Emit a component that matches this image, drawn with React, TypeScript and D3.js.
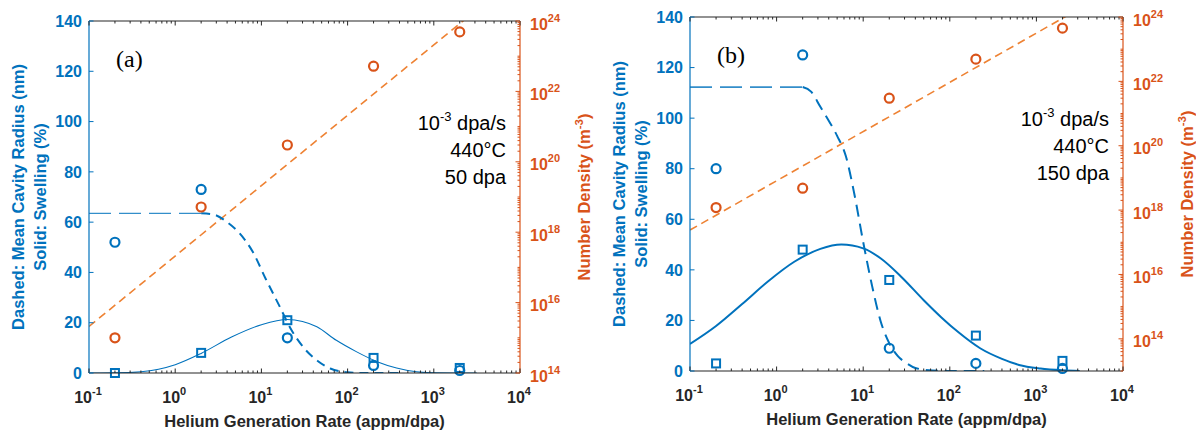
import React, { useEffect, useRef } from "react";
import * as d3 from "d3";

const BLUE = "#0072BD";
const ORANGE = "#D95319";
const FIT_ORANGE = "#EE8233";
const DARK = "#262626";
const SANS = "'Liberation Sans', Arial, sans-serif";
const SERIF = "'Liberation Serif', 'Times New Roman', serif";

// helium generation rates of the measured samples (appm/dpa)
const heRates = [0.2, 2, 20, 200, 2000];

// panel (a) 50 dpa
const radiusA = [52, 73, 14, 3, 1];
const swellA = [0, 8, 21, 6, 2];
const densityA = [1e15, 5.2e18, 3e20, 5.2e22, 4.9e23];

const radiusFlatXA = [0.1, 2];
const radiusFlatYA = [63.5, 63.5];
const radiusDropXA = [2, 2.8, 4, 5.6, 8, 11.2, 16, 22.4, 32, 45, 63, 100, 160, 400];
const radiusDropYA = [63.5, 63, 60, 55.5, 48, 37.5, 27, 17, 9.5, 4.8, 1.8, 0.3, 0, 0];
const swellFitXA = [0.1, 0.2, 0.4, 1, 2, 4.5, 10, 20, 30, 44, 74, 126, 220, 370, 630, 1070, 3160];
const swellFitYA = [0, 0.05, 0.5, 3.3, 7.8, 14.3, 19.2, 21.3, 20.5, 18.4, 13, 8.5, 4.5, 2, 0.5, 0.05, 0];
const densFitXA = [0.1, 1e4];
const densFitYA = [2.1e15, 2.1e25];

// panel (b) 150 dpa
const radiusB = [80, 125, 9, 3, 1];
const swellB = [3, 48, 36, 14, 4];
const densityB = [1.2e18, 4.8e18, 3e21, 4.9e22, 4.5e23];

const radiusFlatXB = [0.1, 2];
const radiusFlatYB = [112.3, 112.3];
const radiusDropXB = [2, 2.5, 3.2, 4, 5, 6.3, 7.9, 10, 12.6, 15.8, 20, 25, 32, 40, 63, 100, 250];
const radiusDropYB = [112.3, 110.5, 104.5, 99, 93, 85, 70, 51, 34, 20, 11, 6, 3, 1.2, 0.2, 0, 0];
const swellFitXB = [0.1, 0.2, 0.4, 0.8, 1.6, 3.2, 5.6, 10, 16, 28, 50, 80, 126, 224, 400, 630, 1120, 2000, 3160];
const swellFitYB = [10.7, 17.8, 26.5, 35.5, 43.2, 48.3, 50, 48.5, 44.5, 37, 28, 21.2, 15.3, 9, 4.8, 2.4, 1.0, 0.3, 0];
const densFitXB = [0.1, 1e4];
const densFitYB = [2.4e17, 1.07e25];

const xDomain = [0.1, 1e4];
const leftDomain = [0, 140];

type Panel = {
  key: string;
  tag: string;
  dose: string;
  left: number; right: number; top: number; bottom: number;
  densMin: number;
  radius: number[]; swell: number[]; density: number[];
  flatX: number[]; flatY: number[];
  dropX: number[]; dropY: number[];
  swellX: number[]; swellY: number[];
  fitX: number[]; fitY: number[];
  swellW: number;
  flatW: number;
  dropDash: string;
};

const panels: Panel[] = [
  {
    key: "a", tag: "(a)", dose: "50 dpa",
    left: 89, right: 520, top: 21, bottom: 373, densMin: 1e14,
    radius: radiusA, swell: swellA, density: densityA,
    flatX: radiusFlatXA, flatY: radiusFlatYA,
    dropX: radiusDropXA, dropY: radiusDropYA,
    swellX: swellFitXA, swellY: swellFitYA,
    fitX: densFitXA, fitY: densFitYA,
    swellW: 1.1, flatW: 1.4, dropDash: "9,6",
  },
  {
    key: "b", tag: "(b)", dose: "150 dpa",
    left: 690, right: 1123, top: 17, bottom: 371, densMin: 1e13,
    radius: radiusB, swell: swellB, density: densityB,
    flatX: radiusFlatXB, flatY: radiusFlatYB,
    dropX: radiusDropXB, dropY: radiusDropYB,
    swellX: swellFitXB, swellY: swellFitYB,
    fitX: densFitXB, fitY: densFitYB,
    swellW: 2, flatW: 1.8, dropDash: "12,7",
  },
];

const isMajor = (v: number) => Math.abs(Math.log10(v) - Math.round(Math.log10(v))) < 1e-6;

function drawPanel(svg: any, p: Panel) {
  const x = d3.scaleLog().domain(xDomain).range([p.left, p.right]);
  const yL = d3.scaleLinear().domain(leftDomain).range([p.bottom, p.top]);
  const yR = d3.scaleLog().domain([p.densMin, 1e24]).range([p.bottom, p.top]);

  const g = svg.append("g");
  const clipId = `clip-${p.key}`;
  g.append("clipPath")
    .attr("id", clipId)
    .append("rect")
    .attr("x", p.left)
    .attr("y", p.top)
    .attr("width", p.right - p.left)
    .attr("height", p.bottom - p.top);

  const plot = g.append("g").attr("clip-path", `url(#${clipId})`);

  const lineL = d3
    .line<[number, number]>()
    .x(d => x(d[0]))
    .y(d => yL(d[1]))
    .curve(d3.curveMonotoneX);
  const lineR = d3
    .line<[number, number]>()
    .x(d => x(d[0]))
    .y(d => yR(d[1]));

  // number density fit
  plot.append("path")
    .attr("d", lineR(d3.zip(p.fitX, p.fitY) as any))
    .attr("fill", "none")
    .attr("stroke", FIT_ORANGE)
    .attr("stroke-width", 1.6)
    .attr("stroke-dasharray", "8,5");

  // cavity radius model (dashed)
  plot.append("path")
    .attr("d", lineL(d3.zip(p.flatX, p.flatY) as any))
    .attr("fill", "none")
    .attr("stroke", BLUE)
    .attr("stroke-opacity", 0.8)
    .attr("stroke-width", p.flatW)
    .attr("stroke-dasharray", "22,8");
  plot.append("path")
    .attr("d", lineL(d3.zip(p.dropX, p.dropY) as any))
    .attr("fill", "none")
    .attr("stroke", BLUE)
    .attr("stroke-width", 2)
    .attr("stroke-dasharray", p.dropDash);

  // swelling model (solid)
  plot.append("path")
    .attr("d", lineL(d3.zip(p.swellX, p.swellY) as any))
    .attr("fill", "none")
    .attr("stroke", BLUE)
    .attr("stroke-width", p.swellW);

  // markers
  g.append("g")
    .selectAll("circle")
    .data(d3.zip(heRates, p.density))
    .join("circle")
    .attr("cx", (d: number[]) => x(d[0]))
    .attr("cy", (d: number[]) => yR(d[1]))
    .attr("r", 4.5)
    .attr("fill", "none")
    .attr("stroke", ORANGE)
    .attr("stroke-width", 2.2);

  g.append("g")
    .selectAll("circle")
    .data(d3.zip(heRates, p.radius))
    .join("circle")
    .attr("cx", (d: number[]) => x(d[0]))
    .attr("cy", (d: number[]) => yL(d[1]))
    .attr("r", 4.5)
    .attr("fill", "none")
    .attr("stroke", BLUE)
    .attr("stroke-width", 2.2);

  g.append("g")
    .selectAll("rect")
    .data(d3.zip(heRates, p.swell))
    .join("rect")
    .attr("x", (d: number[]) => x(d[0]) - 4)
    .attr("y", (d: number[]) => yL(d[1]) - 4)
    .attr("width", 8)
    .attr("height", 8)
    .attr("fill", "none")
    .attr("stroke", BLUE)
    .attr("stroke-width", 2);

  // axes frame
  const ax = g.append("g");
  ax.append("line").attr("x1", p.left).attr("x2", p.right).attr("y1", p.bottom).attr("y2", p.bottom).attr("stroke", DARK).attr("stroke-width", 1.2);
  ax.append("line").attr("x1", p.left).attr("x2", p.right).attr("y1", p.top).attr("y2", p.top).attr("stroke", DARK).attr("stroke-width", 1.2);
  ax.append("line").attr("x1", p.left).attr("x2", p.left).attr("y1", p.top).attr("y2", p.bottom).attr("stroke", BLUE).attr("stroke-width", 1.2);
  ax.append("line").attr("x1", p.right).attr("x2", p.right).attr("y1", p.top).attr("y2", p.bottom).attr("stroke", ORANGE).attr("stroke-width", 1.2);

  const xt = x.ticks();
  [p.bottom, p.top].forEach((yy, i) => {
    const dir = i === 0 ? -1 : 1;
    ax.append("g")
      .selectAll("line")
      .data(xt)
      .join("line")
      .attr("x1", (d: number) => x(d))
      .attr("x2", (d: number) => x(d))
      .attr("y1", yy)
      .attr("y2", (d: number) => yy + dir * (isMajor(d) ? 4.5 : 2.5))
      .attr("stroke", DARK)
      .attr("stroke-width", 1);
  });

  ax.append("g")
    .selectAll("line")
    .data(yL.ticks(7))
    .join("line")
    .attr("x1", p.left)
    .attr("x2", p.left + 4.5)
    .attr("y1", (d: number) => yL(d))
    .attr("y2", (d: number) => yL(d))
    .attr("stroke", BLUE);

  const rt = yR.ticks(30);
  const majorR = (d: number) => isMajor(d) && Math.round(Math.log10(d)) % 2 === 0;
  ax.append("g")
    .selectAll("line")
    .data(rt)
    .join("line")
    .attr("x1", p.right)
    .attr("x2", (d: number) => p.right - (majorR(d) ? 4.5 : 2.5))
    .attr("y1", (d: number) => yR(d))
    .attr("y2", (d: number) => yR(d))
    .attr("stroke", ORANGE);

  // tick labels
  const xl = ax.append("g")
    .attr("font-family", SANS)
    .attr("font-weight", "bold")
    .attr("fill", DARK);
  xt.filter(isMajor).forEach(v => {
    const t = xl.append("text")
      .attr("x", x(v) - 1)
      .attr("y", p.bottom + 30)
      .attr("text-anchor", "middle")
      .attr("font-size", 16)
      .text("10");
    t.append("tspan").attr("dy", -8).attr("font-size", 11).text(String(Math.round(Math.log10(v))));
  });

  ax.append("g")
    .selectAll("text")
    .data(yL.ticks(7))
    .join("text")
    .attr("x", p.left - 7)
    .attr("y", (d: number) => yL(d))
    .attr("dy", "0.36em")
    .attr("text-anchor", "end")
    .attr("font-family", SANS)
    .attr("font-weight", "bold")
    .attr("font-size", 16)
    .attr("fill", BLUE)
    .text((d: number) => d);

  const rl = ax.append("g")
    .attr("font-family", SANS)
    .attr("font-weight", "bold")
    .attr("fill", ORANGE);
  rt.filter(majorR).forEach(v => {
    const t = rl.append("text")
      .attr("x", p.right + 10)
      .attr("y", yR(v) + 8.5)
      .attr("font-size", 16)
      .text("10");
    t.append("tspan").attr("dy", -8).attr("font-size", 11).text(String(Math.round(Math.log10(v))));
  });

  // axis titles
  const cx = (p.left + p.right) / 2;
  const cy = (p.top + p.bottom) / 2;
  g.append("text")
    .attr("x", cx)
    .attr("y", p.bottom + 54)
    .attr("text-anchor", "middle")
    .attr("font-family", SANS)
    .attr("font-weight", "bold")
    .attr("font-size", 16.5)
    .attr("fill", DARK)
    .text("Helium Generation Rate (appm/dpa)");

  ["Dashed: Mean Cavity Radius (nm)", "Solid: Swelling (%)"].forEach((s, i) => {
    g.append("text")
      .attr("transform", `translate(${p.left - 65 + i * 22},${cy}) rotate(-90)`)
      .attr("text-anchor", "middle")
      .attr("font-family", SANS)
      .attr("font-weight", "bold")
      .attr("font-size", 16.5)
      .attr("fill", BLUE)
      .text(s);
  });

  const rTitle = g.append("text")
    .attr("transform", `translate(${p.right + 70},${cy}) rotate(-90)`)
    .attr("text-anchor", "middle")
    .attr("font-family", SANS)
    .attr("font-weight", "bold")
    .attr("font-size", 16.5)
    .attr("fill", ORANGE);
  rTitle.append("tspan").text("Number Density (m");
  rTitle.append("tspan").attr("dy", -7).attr("font-size", 11.5).text("-3");
  rTitle.append("tspan").attr("dy", 7).text(")");

  // annotations
  g.append("text")
    .attr("x", p.left + 27)
    .attr("y", p.top + 46)
    .attr("font-family", SERIF)
    .attr("font-size", 24)
    .attr("fill", "#000")
    .text(p.tag);

  const ann = g.append("g")
    .attr("font-family", SANS)
    .attr("font-size", 20)
    .attr("fill", "#000")
    .attr("text-anchor", "end");
  const ax0 = p.right - 14;
  const first = ann.append("text").attr("x", ax0).attr("y", p.top + 109);
  first.append("tspan").text("10");
  first.append("tspan").attr("dy", -9).attr("font-size", 13).text("-3");
  first.append("tspan").attr("dy", 9).text(" dpa/s");
  ann.append("text").attr("x", ax0).attr("y", p.top + 136).text("440°C");
  ann.append("text").attr("x", ax0).attr("y", p.top + 163).text(p.dose);
}

export default function App() {
  const svgRef = useRef<SVGSVGElement>(null);

  useEffect(() => {
    if (!svgRef.current) return;
    const svg = d3.select(svgRef.current);
    svg.selectAll("*").remove();
    panels.forEach(p => drawPanel(svg, p));
  }, []);

  return (
    <div style={{ position: "absolute", left: 0, top: 0, background: "#fff" }}>
      <svg ref={svgRef} width={1196} height={434} style={{ display: "block" }} />
    </div>
  );
}
